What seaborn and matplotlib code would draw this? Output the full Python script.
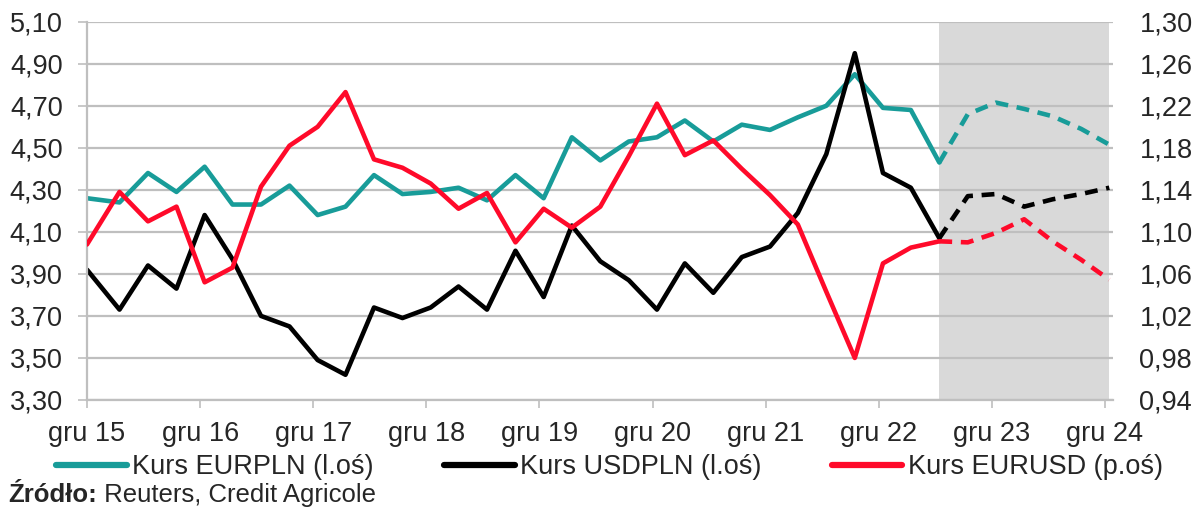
import matplotlib
matplotlib.use('Agg')
import pandas as pd
import matplotlib.pyplot as plt
import seaborn as sns
from matplotlib.lines import Line2D
from matplotlib.transforms import IdentityTransform

# quarterly observations, first one at the start of gru 15, forecast from cze 23
dates = ['2015-12-01'] + [f'{y}-{m:02d}-15' for y in range(2016, 2025) for m in (3, 6, 9, 12)]

eurpln = [4.26, 4.24, 4.38, 4.29, 4.41, 4.23, 4.23, 4.32, 4.18, 4.22,
          4.37, 4.28, 4.29, 4.31, 4.25, 4.37, 4.26, 4.55, 4.44, 4.53,
          4.55, 4.63, 4.53, 4.61, 4.585, 4.645, 4.70, 4.85, 4.69, 4.68,
          4.43, 4.66, 4.715, 4.685, 4.65, 4.59, 4.515]
usdpln = [3.92, 3.73, 3.94, 3.83, 4.18, 3.97, 3.70, 3.65, 3.49, 3.42,
          3.74, 3.69, 3.74, 3.84, 3.73, 4.01, 3.79, 4.13, 3.96, 3.87,
          3.73, 3.95, 3.81, 3.98, 4.03, 4.19, 4.47, 4.95, 4.38, 4.31,
          4.07, 4.27, 4.28, 4.22, 4.255, 4.28, 4.31]
eurusd = [1.088, 1.138, 1.110, 1.124, 1.052, 1.066, 1.143, 1.182, 1.200, 1.233,
          1.169, 1.161, 1.146, 1.122, 1.137, 1.090, 1.122, 1.104, 1.124, 1.172,
          1.222, 1.173, 1.187, 1.160, 1.135, 1.107, 1.043, 0.980, 1.070, 1.085,
          1.091, 1.090, 1.099, 1.112, 1.091, 1.0735, 1.0545]
last_actual = 30  # index of cze 23

tick_dates = [f'{y}-12-01' for y in range(2015, 2025)]
tick_labels = [f'gru {y % 100}' for y in range(2015, 2025)]
left_ticks = [3.30, 3.50, 3.70, 3.90, 4.10, 4.30, 4.50, 4.70, 4.90, 5.10]
right_ticks = [0.94, 0.98, 1.02, 1.06, 1.10, 1.14, 1.18, 1.22, 1.26, 1.30]

labels = ['Kurs EURPLN (l.oś)', 'Kurs USDPLN (l.oś)', 'Kurs EURUSD (p.oś)']
colors = ['#189C99', '#000000', '#FF0A2A']

df = pd.DataFrame({'date': pd.to_datetime(dates), 'EURPLN': eurpln,
                   'USDPLN': usdpln, 'EURUSD': eurusd})
actual = df.iloc[:last_actual + 1]
forecast = df.iloc[last_actual:]

sns.set_style('white')
plt.rcParams['font.family'] = ['Liberation Sans', 'DejaVu Sans']
FS = 19.5
GRID = '#BFBFBF'

fig = plt.figure(figsize=(12, 5.13), dpi=100)
ax = fig.add_axes([0.0725, 0.2203, 0.855, 0.7374])
ax2 = ax.twinx()

ax.axvspan(df['date'].iloc[last_actual], df['date'].iloc[-1], color='#D9D9D9', lw=0, zorder=0)

for axis, col, c in [(ax, 'EURPLN', colors[0]), (ax, 'USDPLN', colors[1]), (ax2, 'EURUSD', colors[2])]:
    sns.lineplot(data=actual, x='date', y=col, ax=axis, color=c, linewidth=3.3,
                 solid_joinstyle='round', legend=False)
    sns.lineplot(data=forecast, x='date', y=col, ax=axis, color=c, linewidth=3.3,
                 linestyle=(0, (2.8, 1.9)), legend=False)

ax.set_ylim(3.30, 5.10)
ax2.set_ylim(0.94, 1.30)
ax.set_xlim(pd.Timestamp('2015-12-01'), pd.Timestamp('2024-12-27'))

ax.set_yticks(left_ticks)
ax.set_yticklabels([f'{v:.2f}'.replace('.', ',') for v in left_ticks])
ax2.set_yticks(right_ticks)
ax2.set_yticklabels([f'{v:.2f}'.replace('.', ',') for v in right_ticks])
ax.set_xticks(pd.to_datetime(tick_dates))
ax.set_xticklabels(tick_labels)

ax.yaxis.grid(True, color=GRID, lw=1.6)
ax.xaxis.grid(False)
ax2.grid(False)
ax.set_axisbelow(True)
ax.set_xlabel('')
ax.set_ylabel('')
ax2.set_ylabel('')

ax.tick_params(axis='y', left=True, length=6.5, width=1.2, color=GRID, pad=11, labelsize=FS)
ax.tick_params(axis='x', bottom=True, length=6, width=1.2, color=GRID, pad=9, labelsize=FS)
ax2.tick_params(axis='y', right=False, length=0, pad=19, labelsize=FS)

for s in ['top', 'right']:
    ax.spines[s].set_visible(False)
for s in ['left', 'bottom']:
    ax.spines[s].set_color(GRID)
    ax.spines[s].set_linewidth(1.6)
for s in ax2.spines.values():
    s.set_visible(False)

handles = [Line2D([], [], color=c, lw=4.5) for c in colors]
fig.legend(handles, labels, loc='center', bbox_to_anchor=(0.508, 0.089), ncol=3,
           frameon=False, fontsize=FS, handlelength=2.6, handletextpad=0.2,
           columnspacing=2.6, borderpad=0, borderaxespad=0)

src = fig.text(8 / 1200, 0.036, 'Źródło:', fontsize=18.5, weight='bold', va='center')
rest = fig.text(0, 0, ' Reuters, Credit Agricole', fontsize=18.5, va='center')

# put the plain part right after the bold label
fig.canvas.draw()
bb = src.get_window_extent()
rest.set_transform(IdentityTransform())
rest.set_position((bb.x1, (bb.y0 + bb.y1) / 2))

fig.savefig('out.png', dpi=100)
